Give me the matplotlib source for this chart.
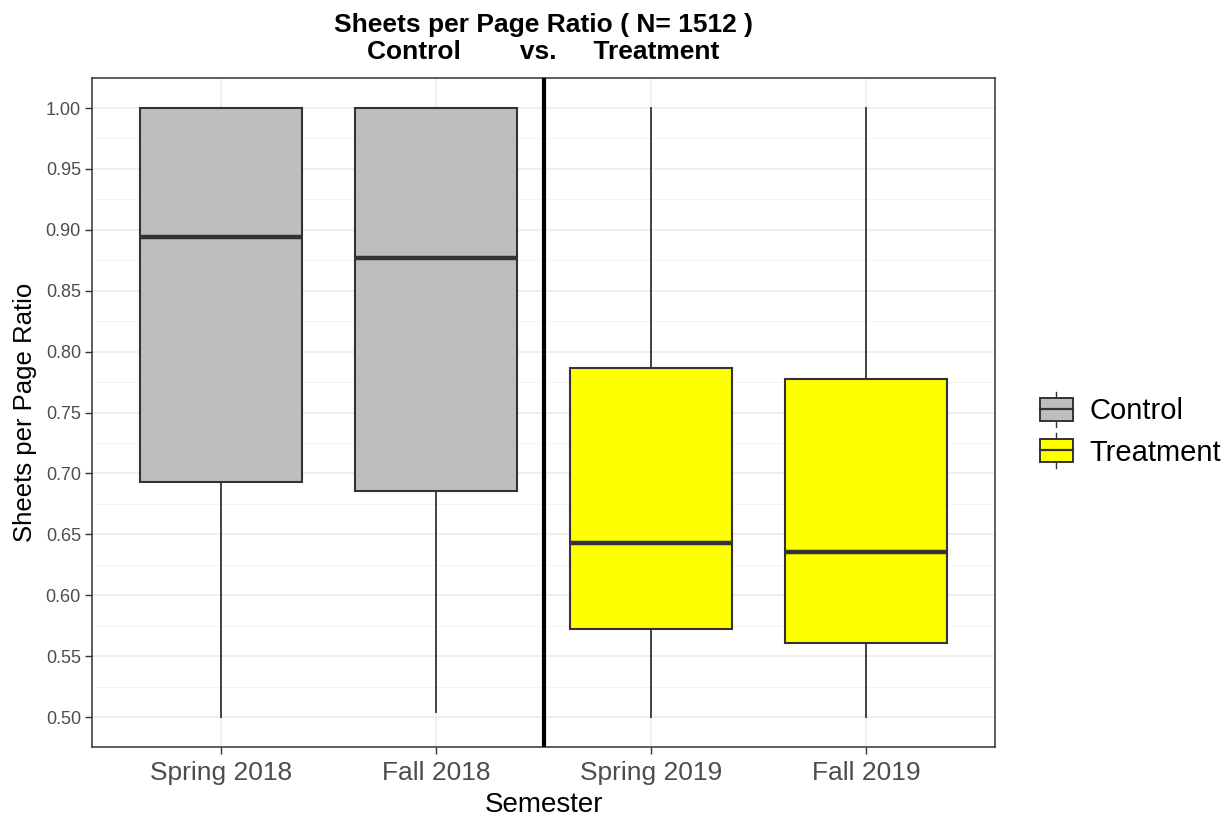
import matplotlib
import numpy as np

matplotlib.use("Agg")
import matplotlib.pyplot as plt
from matplotlib.legend_handler import HandlerBase
from matplotlib.patches import Patch, Rectangle
from matplotlib.lines import Line2D

plt.rcParams["font.family"] = ["Liberation Sans", "DejaVu Sans"]

semesters = ["Spring 2018", "Fall 2018", "Spring 2019", "Fall 2019"]
groups = ["Control", "Control", "Treatment", "Treatment"]
whis_lo = [0.500, 0.504, 0.500, 0.500]
q1 = [0.693, 0.6855, 0.572, 0.561]
medians = [0.894, 0.877, 0.643, 0.6355]
q3 = [1.000, 1.000, 0.7865, 0.7775]
whis_hi = [1.000, 1.000, 1.000, 1.000]

group_colors = {"Control": "#BEBEBE", "Treatment": "#FFFF00"}
edge = "#333333"


class BoxKeyHandler(HandlerBase):
    # draws a little boxplot glyph like ggplot legend keys
    def create_artists(self, legend, orig_handle, xdescent, ydescent,
                       width, height, fontsize, trans):
        cx = width / 2 - xdescent
        h = height
        bw = width
        rect = Rectangle((cx - bw / 2, -ydescent), bw, h,
                         facecolor=orig_handle.get_facecolor(),
                         edgecolor=edge, linewidth=1.4, transform=trans)
        med = Line2D([cx - bw / 2, cx + bw / 2], [-ydescent + h / 2] * 2,
                     color=edge, linewidth=1.6, transform=trans)
        wt = Line2D([cx, cx], [-ydescent + h, -ydescent + h * 1.25],
                    color=edge, linewidth=1.0, transform=trans)
        wb = Line2D([cx, cx], [-ydescent, -ydescent - h * 0.25],
                    color=edge, linewidth=1.0, transform=trans)
        return [wt, wb, rect, med]


fig = plt.figure(figsize=(12.29, 8.18), dpi=100)
ax = fig.add_axes([0.0749, 0.0868, 0.7347, 0.8178])

stats = []
for i in range(len(semesters)):
    stats.append({"whislo": whis_lo[i], "q1": q1[i], "med": medians[i],
                  "q3": q3[i], "whishi": whis_hi[i], "fliers": []})

positions = np.arange(1, len(semesters) + 1)
bp = ax.bxp(stats, positions=positions, widths=0.75, patch_artist=True,
            showcaps=False, showfliers=False,
            boxprops={"edgecolor": edge, "linewidth": 1.5},
            medianprops={"color": edge, "linewidth": 3.2, "solid_capstyle": "butt"},
            whiskerprops={"color": edge, "linewidth": 1.3})
for patch, g in zip(bp["boxes"], groups):
    patch.set_facecolor(group_colors[g])

ax.axvline(2.5, color="black", linewidth=3, zorder=3)

ax.set_xlim(0.4, 4.6)
ax.set_ylim(0.4754, 1.0246)
ax.set_yticks(np.arange(0.50, 1.001, 0.05))
ax.set_yticks(np.arange(0.525, 1.0, 0.05), minor=True)
ax.set_xticks(positions)
ax.set_xticklabels(semesters)
ax.tick_params(axis="y", labelsize=13, labelcolor="#4D4D4D", color="#333333",
               length=5, width=1, pad=3)
ax.tick_params(axis="x", labelsize=19, labelcolor="#4D4D4D", color="#333333",
               length=5, width=1, pad=5)
ax.tick_params(axis="y", which="minor", length=0)
ax.yaxis.set_major_formatter(matplotlib.ticker.FormatStrFormatter("%.2f"))

ax.grid(True, which="major", color="#EBEBEB", linewidth=1.1)
ax.grid(True, which="minor", axis="y", color="#F2F2F2", linewidth=0.6)
ax.set_axisbelow(True)
for s in ax.spines.values():
    s.set_color("#333333")
    s.set_linewidth(1.1)

ax.set_xlabel("Semester", fontsize=20, labelpad=5)
ax.set_ylabel("Sheets per Page Ratio", fontsize=18.5, labelpad=6)
ax.set_title("Sheets per Page Ratio ( N= 1512 )\nControl        vs.     Treatment",
             fontsize=19, fontweight="bold", linespacing=1.15, pad=14)

handles = [Patch(facecolor=group_colors["Control"], label="Control"),
           Patch(facecolor=group_colors["Treatment"], label="Treatment")]
fig.legend(handles=handles, handler_map={Patch: BoxKeyHandler()},
           loc="center left", bbox_to_anchor=(1040 / 1229, 1 - 432 / 818),
           bbox_transform=fig.transFigure, frameon=False, borderpad=0,
           borderaxespad=0, fontsize=21, handlelength=1.13, handleheight=0.85,
           labelspacing=0.45, handletextpad=0.58)

fig.savefig("out.png", dpi=100)
